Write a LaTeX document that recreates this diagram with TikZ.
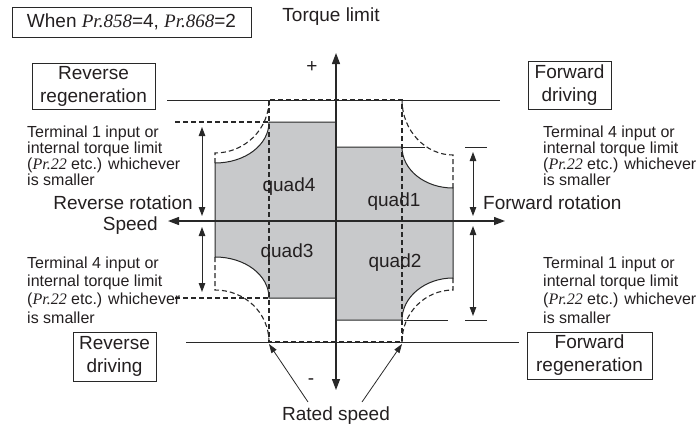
\documentclass[tikz,border=0pt]{standalone}
\usepackage{fontspec}
\setmainfont{Liberation Sans}
\newfontfamily\trm{Liberation Serif}
\usetikzlibrary{arrows.meta}
\definecolor{textc}{RGB}{35,31,32}
\definecolor{linec}{RGB}{40,40,40}
\definecolor{fillg}{RGB}{200,201,203}
\newcommand{\prm}[1]{{\trm\itshape #1}}
\begin{document}
\begin{tikzpicture}[x=1pt,y=-1pt,
  ln/.style={draw=linec,line width=1pt},
  dsh/.style={draw=linec,line width=1.1pt,dash pattern=on 5pt off 3pt},
  axisln/.style={draw=linec,line width=1.3pt,{Triangle[length=11pt,width=8pt]}-{Triangle[length=11pt,width=8pt]}},
  dimln/.style={draw=linec,line width=1pt,{Triangle[length=9pt,width=6.5pt]}-{Triangle[length=9pt,width=6.5pt]}},
  ptr/.style={draw=linec,line width=0.8pt,-{Triangle[length=9pt,width=6pt]}},
  lbl/.style={font=\fontsize{19}{23}\selectfont,text=textc,inner sep=0pt},
  note/.style={font=\fontsize{16}{16}\selectfont,text=textc,align=left,inner sep=0pt,anchor=north west},
  notelow/.style={note,font=\fontsize{16}{18.3}\selectfont},
  boxn/.style={lbl,draw=linec,line width=0.8pt,align=center}]
\useasboundingbox (0,0) rectangle (700,423);

% gray areas
\fill[fillg] (215,163) .. controls (245,163) and (269,145) .. (269,122) -- (336,122) -- (336,298) -- (269,298) .. controls (269,275) and (245,257) .. (215,257) -- cycle;
\fill[fillg] (336,147) -- (402,147) .. controls (402,170) and (425,188) .. (453,188) -- (453,278) .. controls (425,278) and (402,297) .. (402,320) -- (336,320) -- cycle;

% outlines
\draw[ln] (336,122) -- (269,122) .. controls (269,145) and (245,163) .. (215,163) -- (215,257) .. controls (245,257) and (269,275) .. (269,298) -- (336,298);
\draw[ln] (336,147) -- (402,147) .. controls (402,170) and (425,188) .. (453,188) -- (453,278) .. controls (425,278) and (402,297) .. (402,320) -- (336,320);

% top and bottom lines
\draw[ln] (167,100) -- (500,100);
\draw[ln] (186,342) -- (519,342);

% dashed rated-speed rectangle and dashed limits
\draw[dsh] (269,100) rectangle (402,342);
\draw[dsh] (215,163) -- (215,153) .. controls (245,153) and (269,129) .. (269,100);
\draw[dsh] (215,257) -- (215,290) .. controls (245,290) and (269,313) .. (269,342);
\draw[dsh] (453,188) -- (453,155) .. controls (425,155) and (402,130) .. (402,100);
\draw[dsh] (453,278) -- (453,290) .. controls (425,290) and (402,313) .. (402,342);
\draw[dsh] (175,122) -- (269,122);
\draw[dsh] (175,298) -- (269,298);

% right extension lines
\draw[ln] (402,147) -- (425,147);
\draw[ln] (465,147) -- (487,147);
\draw[ln] (404,320) -- (448,320);
\draw[ln] (465,320) -- (487,320);

% axes
\coordinate (vt) at (336,53);
\coordinate (vb) at (336,390);
\coordinate (hl) at (168,221);
\coordinate (hr) at (505,221);
\draw[axisln] (vb) -- (vt);
\draw[axisln] (hl) -- (hr);

% dimension arrows
\coordinate (lu1) at (202,127); \coordinate (lu2) at (202,216);
\coordinate (ll1) at (202,227); \coordinate (ll2) at (202,292);
\coordinate (ru1) at (473,152); \coordinate (ru2) at (473,216);
\coordinate (rl1) at (473,226); \coordinate (rl2) at (473,316);
\draw[dimln] (lu1) -- (lu2);
\draw[dimln] (ll1) -- (ll2);
\draw[dimln] (ru1) -- (ru2);
\draw[dimln] (rl1) -- (rl2);

% texts
\node[boxn,minimum width=239pt,minimum height=30pt] (cond) at (131.5,22) {When \prm{Pr.858}=4, \prm{Pr.868}=2};
\node[lbl,anchor=base] (tl) at (331,21) {Torque limit};
\node[lbl] (plus) at (312,67) {+};
\node[lbl] (minus) at (311,382) {-};
\node[lbl,anchor=base] (rs) at (336,420) {Rated speed};
\coordinate (rsl) at (308,402);
\coordinate (rsr) at (362,402);
\coordinate (rtl) at (269,344);
\coordinate (rtr) at (402,344);
\draw[ptr] (rsl) -- (rtl);
\draw[ptr] (rsr) -- (rtr);

\node[boxn,minimum width=123pt,minimum height=46pt] (rr) at (93.5,86) {Reverse\\regeneration};
\node[boxn,minimum width=83pt,minimum height=48pt] (fd) at (569.5,85) {Forward\\driving};
\node[boxn,minimum width=83pt,minimum height=49pt] (rd) at (114.5,356.5) {Reverse\\driving};
\node[boxn,minimum width=125pt,minimum height=47pt] (fr) at (589.5,355.5) {Forward\\regeneration};

\node[lbl,anchor=base east] (revrot) at (193,209) {Reverse rotation};
\node[lbl,anchor=base east] (spd) at (158,230) {Speed};
\node[lbl,anchor=base west] (fwdrot) at (483,209) {Forward rotation};

\node[lbl,anchor=base] (q4) at (289,191) {quad4};
\node[lbl,anchor=base] (q1) at (394,206) {quad1};
\node[lbl,anchor=base] (q3) at (287,257) {quad3};
\node[lbl,anchor=base] (q2) at (395,267) {quad2};

\node[note] (nlu) at (27,125.5) {Terminal 1 input or\\internal torque limit\\(\prm{Pr.22} etc.) whichever\\is smaller};
\node[note] (nru) at (543,125.5) {Terminal 4 input or\\internal torque limit\\(\prm{Pr.22} etc.) whichever\\is smaller};
\node[notelow] (nll) at (27,256.5) {Terminal 4 input or\\internal torque limit\\(\prm{Pr.22} etc.) whichever\\is smaller};
\node[notelow] (nrl) at (543,256.5) {Terminal 1 input or\\internal torque limit\\(\prm{Pr.22} etc.) whichever\\is smaller};
\end{tikzpicture}
\end{document}
